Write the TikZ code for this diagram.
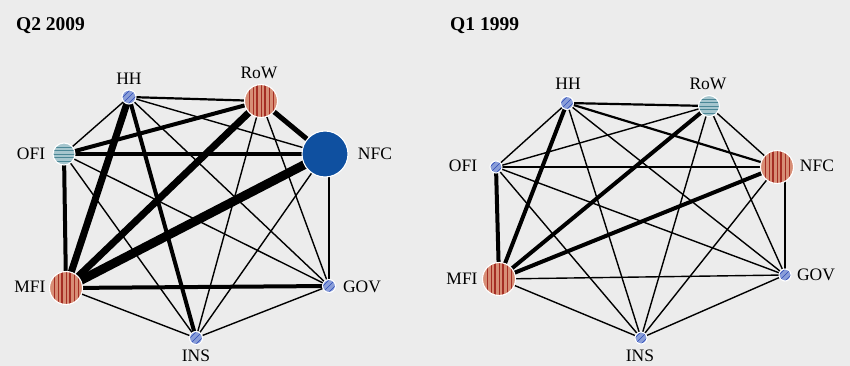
\documentclass[tikz,border=0pt]{standalone}
\usepackage{fontspec}
\setmainfont{Liberation Serif}
\usetikzlibrary{positioning}
\definecolor{PanelGrey}{RGB}{236,236,236}
\definecolor{HatchFill}{RGB}{138,158,216}
\definecolor{HatchLine}{RGB}{45,75,185}
\definecolor{StripeFill}{RGB}{215,142,118}
\definecolor{StripeLine}{RGB}{165,45,35}
\definecolor{BandFill}{RGB}{166,198,206}
\definecolor{BandLine}{RGB}{75,135,150}
\definecolor{SolidBlue}{RGB}{15,80,160}
\pgfdeclarelayer{edgelayer}
\pgfsetlayers{edgelayer,main}

\begin{document}
\begin{tikzpicture}[x=1pt,y=-1pt,
    sector/.style={circle,draw=white,line width=1.1pt,inner sep=0pt},
    hatchnode/.style={sector,fill=HatchFill,
      path picture={\foreach \d in {-3,0,3}
        \draw[HatchLine,line width=0.6pt]
          ([shift={(\d-12,\d+12)}]path picture bounding box.center) --
          ([shift={(\d+12,\d-12)}]path picture bounding box.center);}},
    stripenode/.style={sector,fill=StripeFill,
      path picture={\foreach \d/\w in {-12/0.5,-8/0.6,-4/1.3,0/0.5,4/1.3,8/0.6,12/0.5}
        \draw[StripeLine,line width=\w pt]
          ([shift={(\d,-20)}]path picture bounding box.center) --
          ([shift={(\d,20)}]path picture bounding box.center);}},
    bandnode/.style={sector,fill=BandFill,
      path picture={\foreach \d/\w in {-7/0.5,-3.5/0.9,0/0.5,3.5/0.9,7/0.5}
        \draw[BandLine,line width=\w pt]
          ([shift={(-20,\d)}]path picture bounding box.center) --
          ([shift={(20,\d)}]path picture bounding box.center);}},
    solidnode/.style={sector,fill=SolidBlue},
    lbl/.style={font=\fontsize{17.5}{20}\selectfont,inner sep=0pt},
    ttl/.style={font=\fontsize{19.5}{22}\selectfont\bfseries,inner sep=0pt,anchor=base west},
    e1/.style={draw=black,line width=1.4pt},
    e2/.style={draw=black,line width=2.2pt},
    e3/.style={draw=black,line width=4pt},
    e4/.style={draw=black,line width=5pt},
    e5/.style={draw=black,line width=7pt},
    e6/.style={draw=black,line width=9pt}
  ]
  \begin{pgfonlayer}{edgelayer}
    \fill[PanelGrey] (0,0) rectangle (850,366);
  \end{pgfonlayer}

  % left panel
  \node[ttl] (titleA) at (16,31) {Q2 2009};
  \node[hatchnode,minimum size=14pt] (hhA) at (129,97) {};
  \node[stripenode,minimum size=33pt] (rowA) at (261,101) {};
  \node[solidnode,minimum size=46pt] (nfcA) at (325,154) {};
  \node[bandnode,minimum size=22pt] (ofiA) at (64,154) {};
  \node[stripenode,minimum size=33pt] (mfiA) at (66,288) {};
  \node[hatchnode,minimum size=13pt] (govA) at (329,286) {};
  \node[hatchnode,minimum size=13pt] (insA) at (196,338) {};
  \node[lbl] (hhAl) at (129,79) {HH};
  \node[lbl] (rowAl) at (259,73) {RoW};
  \node[lbl] (nfcAl) at (375,154) {NFC};
  \node[lbl] (ofiAl) at (31,154) {OFI};
  \node[lbl] (mfiAl) at (30,287) {MFI};
  \node[lbl] (govAl) at (362,287) {GOV};
  \node[lbl] (insAl) at (196,356) {INS};

  % right panel
  \node[ttl] (titleB) at (450,31) {Q1 1999};
  \node[hatchnode,minimum size=13pt] (hhB) at (567,103) {};
  \node[bandnode,minimum size=21pt] (rowB) at (709,106) {};
  \node[stripenode,minimum size=33pt] (nfcB) at (777,167) {};
  \node[hatchnode,minimum size=12pt] (ofiB) at (496,167) {};
  \node[stripenode,minimum size=33pt] (mfiB) at (499,279) {};
  \node[hatchnode,minimum size=12pt] (govB) at (785,275) {};
  \node[hatchnode,minimum size=12pt] (insB) at (641,338) {};
  \node[lbl] (hhBl) at (568,84) {HH};
  \node[lbl] (rowBl) at (708,84) {RoW};
  \node[lbl] (nfcBl) at (817,166) {NFC};
  \node[lbl] (ofiBl) at (463,166) {OFI};
  \node[lbl] (mfiBl) at (462,279) {MFI};
  \node[lbl] (govBl) at (816,275) {GOV};
  \node[lbl] (insBl) at (640,356) {INS};

  \begin{pgfonlayer}{edgelayer}
    % flows, Q2 2009
    \draw[e2] (hhA.center)--(rowA.center); \draw[e1] (hhA.center)--(nfcA.center);
    \draw[e1] (hhA.center)--(ofiA.center); \draw[e5] (hhA.center)--(mfiA.center);
    \draw[e1] (hhA.center)--(govA.center); \draw[e3] (hhA.center)--(insA.center);
    \draw[e4] (rowA.center)--(nfcA.center); \draw[e3] (rowA.center)--(ofiA.center);
    \draw[e5] (rowA.center)--(mfiA.center); \draw[e1] (rowA.center)--(govA.center);
    \draw[e1] (rowA.center)--(insA.center);
    \draw[e3] (nfcA.center)--(ofiA.center); \draw[e6] (nfcA.center)--(mfiA.center);
    \draw[e1] (govA.center)--(govA.center |- nfcA.center); \draw[e1] (nfcA.center)--(insA.center);
    \draw[e3] (ofiA.center)--(mfiA.center); \draw[e1] (ofiA.center)--(govA.center);
    \draw[e1] (ofiA.center)--(insA.center);
    \draw[e3] (mfiA.center)--(govA.center); \draw[e1] (mfiA.center)--(insA.center);
    \draw[e1] (govA.center)--(insA.center);
    % flows, Q1 1999
    \draw[e2] (hhB.center)--(rowB.center); \draw[e2] (hhB.center)--(nfcB.center);
    \draw[e1] (hhB.center)--(ofiB.center); \draw[e3] (hhB.center)--(mfiB.center);
    \draw[e1] (hhB.center)--(govB.center); \draw[e1] (hhB.center)--(insB.center);
    \draw[e1] (rowB.center)--(nfcB.center); \draw[e1] (rowB.center)--(ofiB.center);
    \draw[e3] (rowB.center)--(mfiB.center); \draw[e1] (rowB.center)--(govB.center);
    \draw[e1] (rowB.center)--(insB.center);
    \draw[e1] (nfcB.center)--(ofiB.center); \draw[e3] (nfcB.center)--(mfiB.center);
    \draw[e2] (govB.center)--(govB.center |- nfcB.center); \draw[e1] (nfcB.center)--(insB.center);
    \draw[e3] (ofiB.center)--(mfiB.center); \draw[e1] (ofiB.center)--(govB.center);
    \draw[e1] (ofiB.center)--(insB.center);
    \draw[e1] (mfiB.center)--(govB.center); \draw[e1] (mfiB.center)--(insB.center);
    \draw[e1] (govB.center)--(insB.center);
  \end{pgfonlayer}
\end{tikzpicture}
\end{document}
